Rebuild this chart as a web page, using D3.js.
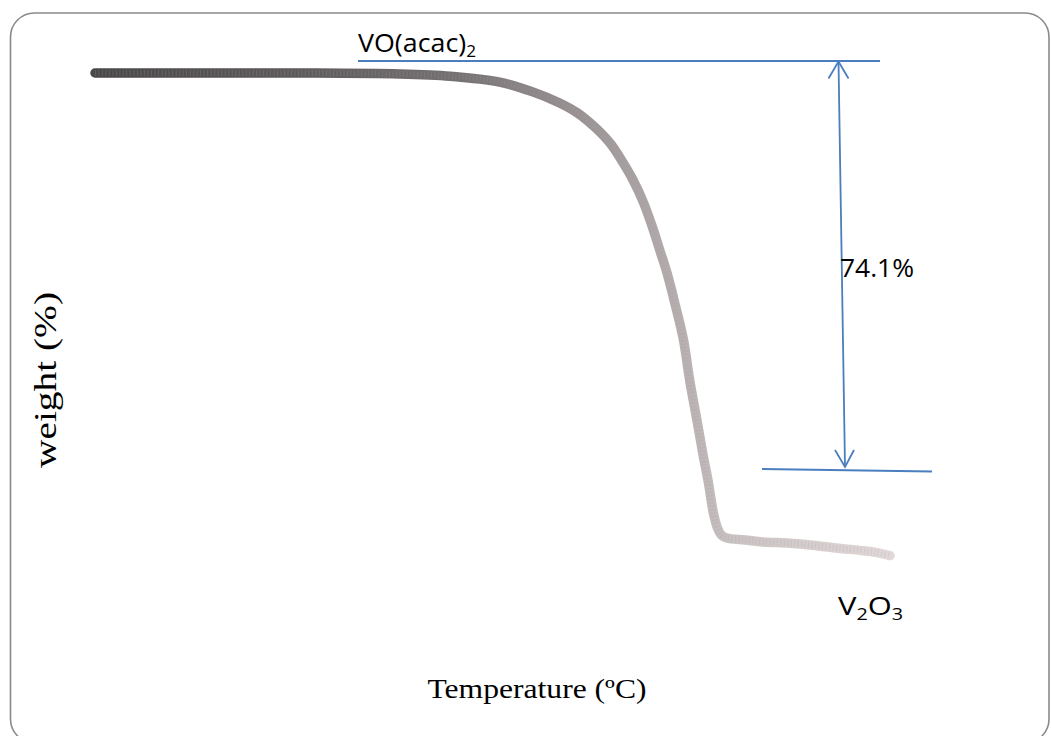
<!DOCTYPE html>
<html>
<head>
<meta charset="utf-8">
<script src="https://cdn.jsdelivr.net/npm/d3@7"></script>
<style>
  html, body { margin: 0; padding: 0; background: #fff; }
  svg { display: block; }
</style>
</head>
<body>
<svg id="chart" width="1051" height="736"></svg>
<script>
// TGA trace of VO(acac)2: temperature (°C) against remaining weight (%)
const temperature = [30, 132, 228, 325, 374, 422, 454, 480, 497, 514, 529, 540, 551, 561, 570, 577, 584, 592, 600, 606, 613, 619, 624, 629, 633, 637, 642, 660, 677, 703, 725, 752, 771, 786, 800];
const weight = [100, 100, 100, 99.85, 99.5, 98.6, 97.1, 95.4, 93.9, 91.7, 89.2, 86.6, 83.6, 80.2, 76.3, 72.8, 69.3, 64.4, 59.0, 52.8, 46.7, 41.3, 37.2, 32.4, 30.1, 29.0, 28.6, 28.3, 28.0, 27.8, 27.5, 27.0, 26.7, 26.4, 25.9];

// Annotation values
const startWeight = 100;          // VO(acac)2 level
const weightLoss = 74.1;          // total loss, %
const lossLabel = "74.1%";
const xLabel = "Temperature (ºC)";
const yLabel = "weight (%)";

const svg = d3.select("#chart");

// Rounded frame
svg.append("rect")
  .attr("x", 10.5).attr("y", 13)
  .attr("width", 1038.5).attr("height", 730)
  .attr("rx", 24).attr("ry", 24)
  .attr("fill", "none")
  .attr("stroke", "#8a8a8a")
  .attr("stroke-width", 1.6);

const x = d3.scaleLinear().domain([30, 800]).range([95, 890]);
const y = d3.scaleLinear().domain([20, 100]).range([594, 73]);

// Vertical scale for the bracket annotation
const yAnn = d3.scaleLinear().domain([100 - weightLoss, startWeight]).range([470, 61]);

const data = temperature.map((t, i) => ({ t, w: weight[i] }));

// Colour fade along the trace
const defs = svg.append("defs");
const grad = defs.append("linearGradient")
  .attr("id", "traceGrad")
  .attr("gradientUnits", "userSpaceOnUse")
  .attr("x1", x(30)).attr("x2", x(800))
  .attr("y1", 0).attr("y2", 0);
const stops = [
  [0.00, "#4a4848"],
  [0.25, "#5e5a5a"],
  [0.45, "#747070"],
  [0.55, "#8d8686"],
  [0.65, "#a39b9b"],
  [0.74, "#b8afaf"],
  [0.80, "#cbc2c2"],
  [1.00, "#e2d8d8"]
];
grad.selectAll("stop").data(stops).join("stop")
  .attr("offset", d => d[0])
  .attr("stop-color", d => d[1]);

const line = d3.line()
  .x(d => x(d.t))
  .y(d => y(d.w))
  .curve(d3.curveCatmullRom.alpha(0.5));

svg.append("path")
  .datum(data)
  .attr("d", line)
  .attr("fill", "none")
  .attr("stroke", "url(#traceGrad)")
  .attr("stroke-width", 9.5)
  .attr("stroke-linecap", "round")
  .attr("stroke-linejoin", "round");

// speckled texture of the marker trail
svg.append("path")
  .datum(data)
  .attr("d", line)
  .attr("fill", "none")
  .attr("stroke", "#9aa4b8")
  .attr("stroke-opacity", 0.25)
  .attr("stroke-width", 6)
  .attr("stroke-dasharray", "1 2.5");

// Blue annotation lines
const blue = "#4a7ebf";
const g = svg.append("g").attr("stroke", blue).attr("stroke-width", 1.8).attr("fill", "none");

// top reference level
g.append("line")
  .attr("x1", 358).attr("x2", 880)
  .attr("y1", yAnn(startWeight)).attr("y2", yAnn(startWeight));
// bottom reference level
g.append("line")
  .attr("x1", 762).attr("x2", 932)
  .attr("y1", yAnn(100 - weightLoss) - 1).attr("y2", yAnn(100 - weightLoss) + 1.5);

// double-headed arrow
const ax1 = 838.5, ay1 = yAnn(startWeight) + 0.5;
const ax2 = 845, ay2 = yAnn(100 - weightLoss) - 3;
g.append("line").attr("x1", ax1).attr("y1", ay1).attr("x2", ax2).attr("y2", ay2);
g.append("polyline").attr("points", `${ax1 - 10},${ay1 + 17} ${ax1},${ay1} ${ax1 + 10},${ay1 + 17}`);
g.append("polyline").attr("points", `${ax2 - 10},${ay2 - 17} ${ax2},${ay2} ${ax2 + 9},${ay2 - 17}`);

// Text labels
const sans = "'Open Sans', 'Noto Sans', sans-serif";
const serif = "'Liberation Serif', 'Times New Roman', serif";

const vo = svg.append("text")
  .attr("x", 358).attr("y", 52)
  .attr("font-family", sans).attr("font-size", 25)
  .attr("textLength", 118).attr("lengthAdjust", "spacingAndGlyphs")
  .attr("fill", "#000");
vo.append("tspan").text("VO(acac)");
vo.append("tspan").attr("font-size", 16).attr("dy", 5).text("2");

svg.append("text")
  .attr("x", 840).attr("y", 277)
  .attr("font-family", sans).attr("font-size", 25)
  .attr("textLength", 74).attr("lengthAdjust", "spacingAndGlyphs")
  .attr("fill", "#000")
  .text(lossLabel);

const v2 = svg.append("text")
  .attr("x", 838).attr("y", 615)
  .attr("font-family", sans).attr("font-size", 25)
  .attr("textLength", 65).attr("lengthAdjust", "spacingAndGlyphs")
  .attr("fill", "#000");
v2.append("tspan").text("V");
v2.append("tspan").attr("font-size", 16).attr("dy", 5).text("2");
v2.append("tspan").attr("dy", -5).text("O");
v2.append("tspan").attr("font-size", 16).attr("dy", 5).text("3");

svg.append("text")
  .attr("x", 537).attr("y", 698)
  .attr("text-anchor", "middle")
  .attr("font-family", serif).attr("font-size", 27)
  .attr("textLength", 219).attr("lengthAdjust", "spacingAndGlyphs")
  .attr("fill", "#000")
  .text(xLabel);

svg.append("text")
  .attr("transform", `translate(56,380) rotate(-90)`)
  .attr("text-anchor", "middle")
  .attr("font-family", serif).attr("font-size", 31)
  .attr("textLength", 176).attr("lengthAdjust", "spacingAndGlyphs")
  .attr("fill", "#000")
  .text(yLabel);
</script>
</body>
</html>
